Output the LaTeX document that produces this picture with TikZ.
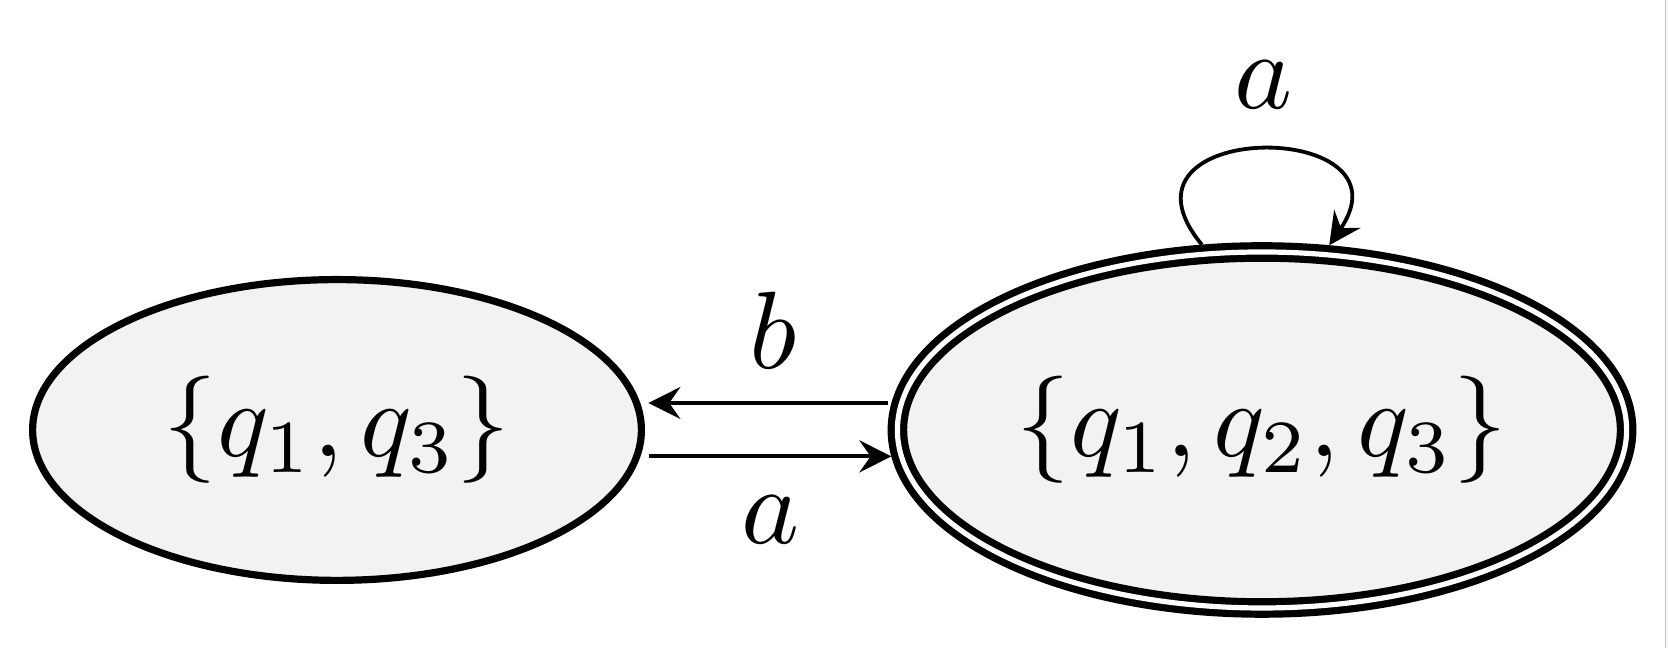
\documentclass[tikz,border=0pt]{standalone}
\usetikzlibrary{arrows.meta,shapes.geometric}
\definecolor{lightfill}{HTML}{F2F2F2}
\newcommand{\stxt}[1]{\scalebox{2.68}{$#1$}}
\newcommand{\ltxt}[1]{\scalebox{2.75}{$#1$}}
\tikzset{
  statebox/.style={ellipse, draw, line width=1.8pt, fill=lightfill, inner sep=0pt},
  acceptbox/.style={statebox, double, double distance=1.3pt, outer sep=2.45pt},
  arr/.style={-{Stealth[length=8pt,width=8pt,inset=2.8pt]}, line width=0.95pt},
  lbl/.style={inner sep=0pt}
}
\begin{document}
\begin{tikzpicture}[x=0.25pt,y=0.25pt]
  \useasboundingbox (0,0) rectangle (1668,648);
  \fill[gray!6] (1665,0) rectangle (1668,648);
  \draw[gray!45, line width=0.3pt] (1665.5,0) -- (1665.5,648);

  \node[statebox, minimum width=152.2pt, minimum height=75.2pt] (L) at (337,218) {\stxt{\{q_1, q_3\}}};
  \node[acceptbox, minimum width=182.3pt, minimum height=89pt] (R) at (1262,218) {\stxt{\{q_1, q_2, q_3\}}};

  \draw[arr] ([yshift=6.75pt]R.west) -- ([yshift=6.75pt,xshift=0.85pt]L.east);
  \draw[arr] ([yshift=-6.6pt,xshift=1.1pt]L.east) -- ([yshift=-6.6pt,xshift=0.95pt]R.west);
  \draw[arr] (R.108) .. controls +(-104,126) and +(88,128) .. (R.70);

  \node[lbl] (lb) at (773,318) {\ltxt{b}};
  \node[lbl] (la) at (771,128) {\ltxt{a}};
  \node[lbl] (ll) at (1264,563) {\ltxt{a}};
\end{tikzpicture}
\end{document}
